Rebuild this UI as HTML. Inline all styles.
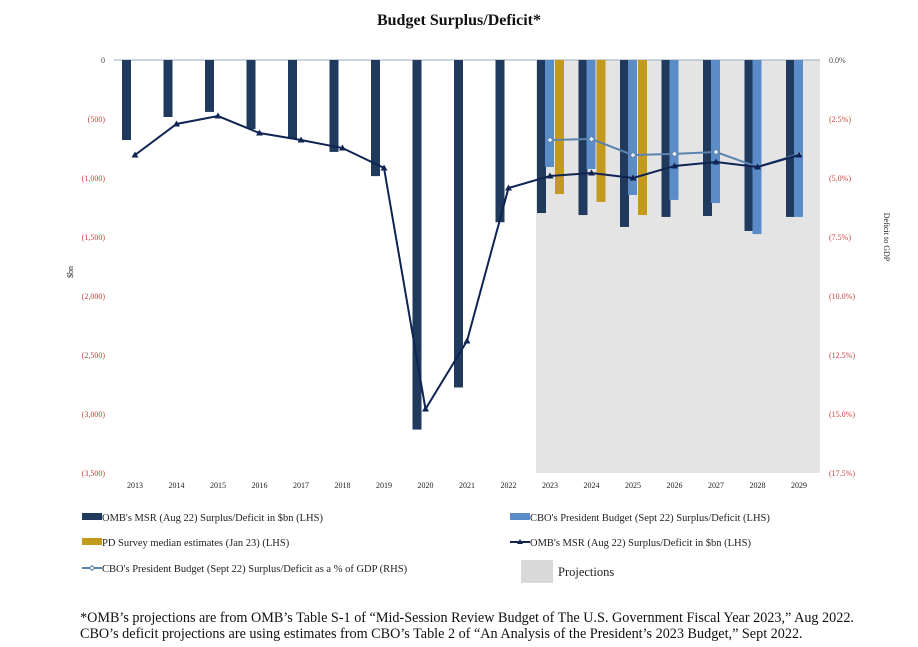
<!DOCTYPE html>
<html><head><meta charset="utf-8"><style>
body{margin:0;background:#fff;width:918px;height:647px;overflow:hidden;font-family:"Liberation Serif",serif;}
svg{position:absolute;left:0;top:0;}
.foot{position:absolute;left:80px;top:610px;font-size:14.2px;line-height:16px;color:#111;white-space:nowrap;}
</style></head><body>
<svg id="chart" width="918" height="647"></svg>
<div class="foot">*OMB’s projections are from OMB’s Table S-1 of “Mid-Session Review Budget of The U.S. Government Fiscal Year 2023,” Aug 2022.<br>CBO’s deficit projections are using estimates from CBO’s Table 2 of “An Analysis of the President’s 2023 Budget,” Sept 2022.</div>
<script>
const years=[2013,2014,2015,2016,2017,2018,2019,2020,2021,2022,2023,2024,2025,2026,2027,2028,2029];
const ombBars=[-678,-483,-440,-585,-665,-779,-984,-3132,-2775,-1375,-1297,-1314,-1415,-1330,-1322,-1449,-1330];
const cboBars=[null,null,null,null,null,null,null,null,null,null,-907,-924,-1144,-1186,-1212,-1475,-1330];
const pdBars=[null,null,null,null,null,null,null,null,null,null,-1136,-1203,-1314,null,null,null,null];
const ombLine=[-805,-542,-475,-619,-678,-746,-915,-2958,-2381,-1085,-983,-958,-1000,-898,-864,-907,-805];
const cboPct=[null,null,null,null,null,null,null,null,null,null,-3.39,-3.35,-4.03,-3.98,-3.9,-4.53,-3.98];
const leftTicks=[0,-500,-1000,-1500,-2000,-2500,-3000,-3500];
const leftLabels=["0","(500)","(1,000)","(1,500)","(2,000)","(2,500)","(3,000)","(3,500)"];
const rightTicks=[0,-2.5,-5,-7.5,-10,-12.5,-15,-17.5];
const rightLabels=["0.0%","(2.5%)","(5.0%)","(7.5%)","(10.0%)","(12.5%)","(15.0%)","(17.5%)"];

const svg=document.getElementById('chart');
const NS="http://www.w3.org/2000/svg";
function mk(tag,attrs,parent){const e=document.createElementNS(NS,tag);for(const k in attrs)e.setAttribute(k,attrs[k]);(parent||svg).appendChild(e);return e;}
const Y0=60,Y1=473,X0=135,STEP=41.5;
const yL=v=>Y0+(-v)/3500*(Y1-Y0);
const yR=v=>Y0+(-v)/17.5*(Y1-Y0);
const xC=i=>X0+i*STEP;
const red="#c8413c";

let t=mk('text',{x:459,y:25,'text-anchor':'middle','font-size':16,'font-weight':'bold',fill:'#111'});t.textContent="Budget Surplus/Deficit*";



let g=mk('rect',{x:536,y:Y0,width:284,height:Y1-Y0,fill:'#e4e4e4'});



let base=mk('line',{x1:114,x2:820,y1:Y0,y2:Y0,stroke:'#9aabbd','stroke-width':1});



leftTicks.forEach((v,i)=>{const e=mk('text',{x:105,y:yL(v)+3,'text-anchor':'end','font-size':8,fill:i==0?'#444':red});e.textContent=leftLabels[i];

});
rightTicks.forEach((v,i)=>{const e=mk('text',{x:829,y:yR(v)+3,'font-size':8,fill:i==0?'#444':red});e.textContent=rightLabels[i];

});
years.forEach((y,i)=>{const e=mk('text',{x:xC(i),y:488,'text-anchor':'middle','font-size':8,fill:'#222'});e.textContent=y;

});

let yt=mk('text',{transform:'translate(73,272) rotate(-90)','text-anchor':'middle','font-size':8,fill:'#222'});yt.textContent="$bn";


let yt2=mk('text',{transform:'translate(884,237) rotate(90)','text-anchor':'middle','font-size':8,fill:'#222'});yt2.textContent="Deficit to GDP";



const BW=9;
function bars(arr,off,color,name){arr.forEach((v,i)=>{if(v==null)return;const r=mk('rect',{x:xC(i)+off,y:Y0,width:BW,height:yL(v)-Y0,fill:color});

});}
bars(ombBars,-13,'#1f3a5c','omb-bar');
bars(cboBars,-5,'#5b8cc8','cbo-bar');
bars(pdBars,5,'#c49a1e','pd-survey-bar');

function line(arr,fy,color,w,name){let pts=[];arr.forEach((v,i)=>{if(v!=null)pts.push(xC(i)+','+fy(v));});
const p=mk('polyline',{points:pts.join(' '),fill:'none',stroke:color,'stroke-width':w});

}
line(cboPct,yR,'#5b84b1',2,'cbo-pct-line');
cboPct.forEach((v,i)=>{if(v==null)return;const x=xC(i),y=yR(v);const m=mk('polygon',{points:`${x},${y-3} ${x+3},${y} ${x},${y+3} ${x-3},${y}`,fill:'#e8eef6',stroke:'#5b84b1','stroke-width':1});

});
line(ombLine,yL,'#0f2452',2,'omb-line');
ombLine.forEach((v,i)=>{const x=xC(i),y=yL(v);const m=mk('polygon',{points:`${x},${y-3.5} ${x+3.5},${y+2.5} ${x-3.5},${y+2.5}`,fill:'#0f2452'});

});

function legend(x,y,type,text,name){const gg=mk('g',{});


if(type.t=='rect')mk('rect',{x:x,y:y-4,width:20,height:7,fill:type.c},gg);
else{mk('line',{x1:x,x2:x+20,y1:y,y2:y,stroke:type.c,'stroke-width':2},gg);
if(type.t=='tri')mk('polygon',{points:`${x+10},${y-3} ${x+13},${y+2} ${x+7},${y+2}`,fill:type.c},gg);
else mk('polygon',{points:`${x+10},${y-2.5} ${x+12.5},${y} ${x+10},${y+2.5} ${x+7.5},${y}`,fill:'#fff',stroke:type.c},gg);}
const e=mk('text',{x:x+20,y:y+4,'font-size':10.5,fill:'#222'},gg);e.textContent=text;}
legend(82,517,{t:'rect',c:'#1f3a5c'},"OMB's MSR (Aug 22) Surplus/Deficit in $bn (LHS)",'legend-omb-bar');
legend(510,517,{t:'rect',c:'#5b8cc8'},"CBO's President Budget (Sept 22) Surplus/Deficit (LHS)",'legend-cbo-bar');
legend(82,542,{t:'rect',c:'#c49a1e'},"PD Survey median estimates (Jan 23) (LHS)",'legend-pd-bar');
legend(510,542,{t:'tri',c:'#0f2452'},"OMB's MSR (Aug 22) Surplus/Deficit in $bn (LHS)",'legend-omb-line');
legend(82,568,{t:'dia',c:'#5b84b1'},"CBO's President Budget (Sept 22) Surplus/Deficit as a % of GDP (RHS)",'legend-cbo-pct-line');

const r=mk('rect',{x:521,y:560,width:32,height:23,fill:'#d9d9d9'});


const tx=mk('text',{x:558,y:576,'font-size':12.5,fill:'#222'});tx.textContent='Projections';


</script>
</body></html>
